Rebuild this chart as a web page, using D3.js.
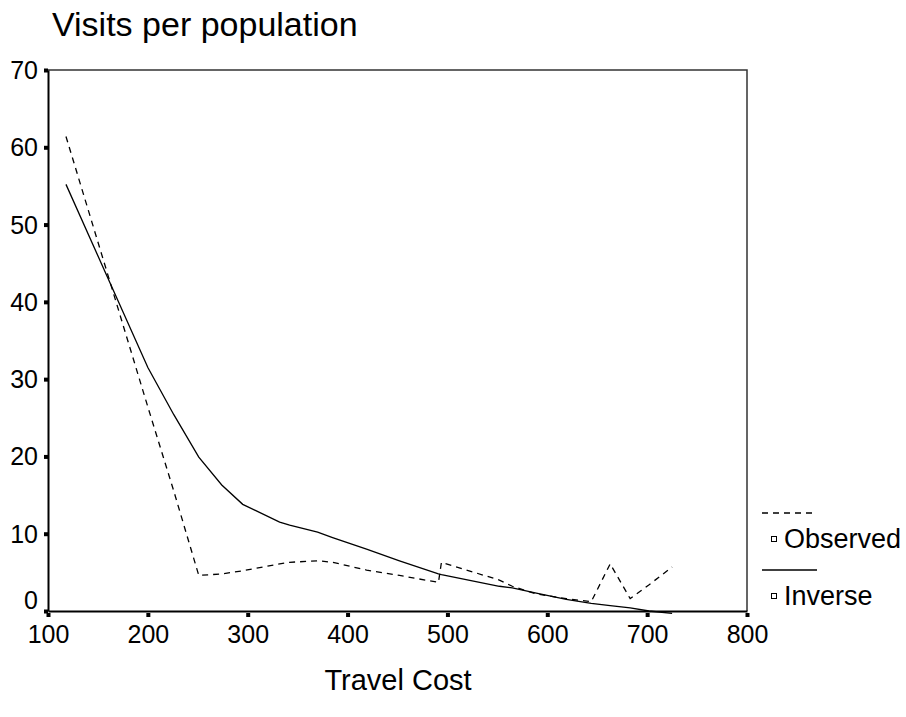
<!DOCTYPE html>
<html>
<head>
<meta charset="utf-8">
<script src="https://cdn.jsdelivr.net/npm/d3@7"></script>
<style>
  body { margin: 0; background: #fff; }
  text { font-family: Arial, "Liberation Sans", sans-serif; fill: #000; }
</style>
</head>
<body>
<div id="chart"></div>
<script>
// travel cost values shared by both series
var cost = [118, 200, 226, 251, 274, 295, 332, 342, 370, 385, 419, 452, 491, 494, 552, 565, 589, 619, 644, 663, 683, 702, 725];
var observed = [61.4, 26.4, 15.5, 4.6, 4.8, 5.2, 6.1, 6.3, 6.5, 6.3, 5.3, 4.6, 3.7, 6.3, 4.0, 3.2, 2.2, 1.6, 1.2, 6.1, 1.6, 3.4, 5.7];
var inverse = [55.2, 31.5, 25.4, 19.9, 16.3, 13.8, 11.5, 11.1, 10.2, 9.5, 8.0, 6.5, 4.8, 4.7, 3.2, 3.0, 2.3, 1.5, 1.0, 0.7, 0.4, 0.0, -0.3];
var xTicks = [100, 200, 300, 400, 500, 600, 700, 800];
var yTicks = [0, 10, 20, 30, 40, 50, 60, 70];
var legendNames = ["Observed", "Inverse"];

(function () {
    var width = 906, height = 717;
    var plotLeft = 48, plotRight = 747, plotTop = 70, plotBottom = 611;
    var font = "Arial, 'Liberation Sans', sans-serif";

    var svg = d3.select("#chart").append("svg")
        .attr("width", width)
        .attr("height", height);

    var x = d3.scaleLinear().domain([100, 800]).range([plotLeft, plotRight]);
    var y = d3.scaleLinear().domain([0, 70]).range([plotBottom, plotTop]);

    // title
    svg.append("text")
        .attr("x", 52)
        .attr("y", 36)
        .attr("font-size", 34)
        .text("Visits per population");

    // frame: top and right edges
    svg.append("path")
        .attr("d", "M" + plotLeft + "," + plotTop + "H" + plotRight + "V" + plotBottom)
        .attr("fill", "none")
        .attr("stroke", "#333")
        .attr("stroke-width", 1.5);

    // axes via d3, then restyled
    var xAxis = svg.append("g")
        .attr("transform", "translate(0," + plotBottom + ")")
        .call(d3.axisBottom(x).tickValues(xTicks).tickSize(0).tickPadding(14));
    xAxis.select(".domain").attr("stroke", "#000").attr("stroke-width", 2);
    xAxis.selectAll("text").attr("font-size", 25).attr("font-family", font);
    xAxis.selectAll(".tick").append("rect")
        .attr("x", -2).attr("y", 2).attr("width", 4).attr("height", 4)
        .attr("fill", "#000");

    var yAxis = svg.append("g")
        .attr("transform", "translate(" + plotLeft + ",0)")
        .call(d3.axisLeft(y).tickValues(yTicks).tickSize(0).tickPadding(10));
    yAxis.select(".domain").attr("stroke", "#000").attr("stroke-width", 2);
    yAxis.selectAll("text").attr("font-size", 25).attr("font-family", font)
        .attr("dy", function (d) { return d === 0 ? "-0.12em" : "0.34em"; });
    yAxis.selectAll(".tick").append("rect")
        .attr("x", -4).attr("y", -2).attr("width", 4).attr("height", 4)
        .attr("fill", "#000");

    // axis title
    svg.append("text")
        .attr("x", 398)
        .attr("y", 690)
        .attr("text-anchor", "middle")
        .attr("font-size", 29)
        .text("Travel Cost");

    // lines
    var line = d3.line()
        .x(function (d) { return x(d[0]); })
        .y(function (d) { return y(d[1]); });

    svg.append("path")
        .datum(d3.zip(cost, observed))
        .attr("d", line)
        .attr("fill", "none")
        .attr("stroke", "#000")
        .attr("stroke-width", 1.3)
        .attr("stroke-dasharray", "6,5");

    svg.append("path")
        .datum(d3.zip(cost, inverse))
        .attr("d", line)
        .attr("fill", "none")
        .attr("stroke", "#000")
        .attr("stroke-width", 1.3);

    // legend
    var legend = svg.append("g");
    legendNames.forEach(function (name, i) {
        var ly = 513 + i * 57;
        legend.append("line")
            .attr("x1", 762).attr("x2", 817)
            .attr("y1", ly).attr("y2", ly)
            .attr("stroke", "#000")
            .attr("stroke-width", 1.3)
            .attr("stroke-dasharray", i === 0 ? "6,5" : null);
        legend.append("rect")
            .attr("x", 771.5).attr("y", ly + 23.5)
            .attr("width", 5).attr("height", 5)
            .attr("fill", "#fff")
            .attr("stroke", "#000")
            .attr("stroke-width", 1);
        legend.append("text")
            .attr("x", 784)
            .attr("y", ly + 35)
            .attr("font-size", 27)
            .text(name);
    });
})();
</script>
</body>
</html>
